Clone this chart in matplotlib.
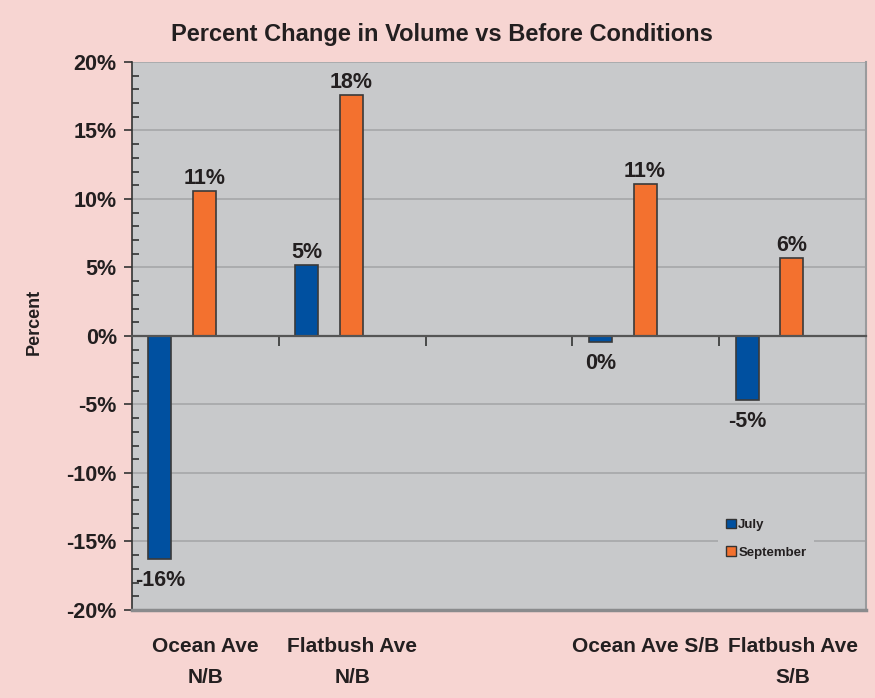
import matplotlib
matplotlib.use("Agg")
import matplotlib.pyplot as plt
from matplotlib.patches import Patch
from matplotlib.ticker import MultipleLocator, FuncFormatter

plt.rcParams['font.family'] = ['Liberation Sans', 'DejaVu Sans']
plt.rcParams['font.weight'] = 'bold'

categories = ["Ocean Ave\nN/B", "Flatbush Ave\nN/B", "", "Ocean Ave S/B", "Flatbush Ave\nS/B"]
july = [-16.3, 5.2, None, -0.45, -4.7]
september = [10.6, 17.6, None, 11.1, 5.7]
series_names = ["July", "September"]

BG = "#f7d5d2"
PLOT_BG = "#c8c9cb"
BLUE = "#0050a0"
ORANGE = "#f3712f"
TEXT = "#231f20"

fig = plt.figure(figsize=(8.75, 6.98), dpi=100, facecolor=BG)
ax = fig.add_axes([0.1509, 0.1261, 0.8388, 0.7851])
ax.set_facecolor(PLOT_BG)

bar_w = 0.157
offsets = [-0.31, -0.005]
for vals, off, color in [(july, offsets[0], BLUE), (september, offsets[1], ORANGE)]:
    for i, v in enumerate(vals):
        if v is None:
            continue
        ax.bar(i + off, v, width=bar_w, color=color, edgecolor="#3a3a3a",
               linewidth=1.2, zorder=3)
        label = f"{round(v):d}%"
        if v >= 0:
            ax.annotate(label, (i + off, v), xytext=(0, 1.5), textcoords="offset points",
                        ha="center", va="bottom", fontsize=15.5, fontweight="bold", color=TEXT)
        else:
            ax.annotate(label, (i + off, v), xytext=(0, -8), textcoords="offset points",
                        ha="center", va="top", fontsize=15.5, fontweight="bold", color=TEXT)

ax.set_xlim(-0.5, 4.5)
ax.set_ylim(-20, 20)

# y axis
ax.yaxis.set_major_locator(MultipleLocator(5))
ax.yaxis.set_minor_locator(MultipleLocator(1))
ax.yaxis.set_major_formatter(FuncFormatter(lambda v, p: f"{v:.0f}%"))
ax.tick_params(axis="y", which="major", direction="out", length=6, width=1.2,
               color="#333333", labelsize=15.5, labelcolor=TEXT, pad=5)
ax.tick_params(axis="y", which="minor", direction="in", length=5, width=1.2, color="#333333")
for lbl in ax.get_yticklabels():
    lbl.set_fontweight("bold")
ax.grid(axis="y", which="major", color="#a3a4a6", linewidth=1.1, zorder=0)
ax.set_axisbelow(True)

# x axis along zero line with category dividers
ax.spines["bottom"].set_position(("data", 0))
ax.spines["bottom"].set_color("#555555")
ax.spines["bottom"].set_linewidth(1.6)
ax.spines["bottom"].set_zorder(4)
ax.set_xticks([0.5, 1.5, 2.5, 3.5])
ax.set_xticklabels([])
ax.tick_params(axis="x", direction="out", length=7, width=1.2, color="#333333")

ax.spines["left"].set_color("#333333")
ax.spines["left"].set_linewidth(1.2)
ax.spines["right"].set_color("#9a9b9d")
ax.spines["right"].set_linewidth(1.5)
ax.spines["top"].set_visible(False)
ax.axhline(-20, color="#8a8b8d", linewidth=2.5, clip_on=False, zorder=4)

for i, name in enumerate(categories):
    if name:
        ax.text(i, -0.05, name, transform=ax.get_xaxis_transform(), ha="center", va="top",
                fontsize=15, fontweight="bold", color=TEXT, linespacing=1.75)

ax.set_ylabel("Percent", fontsize=13, fontweight="bold", color=TEXT)
ax.yaxis.set_label_coords(-0.122, 0.526)

fig.text(0.505, 0.951, "Percent Change in Volume vs Before Conditions", ha="center",
         va="center", fontsize=17, fontweight="bold", color=TEXT)

handles = [Patch(facecolor=BLUE, edgecolor="#333333"),
           Patch(facecolor=ORANGE, edgecolor="#333333")]
leg = ax.legend(handles, series_names, loc="center left", bbox_to_anchor=(0.79, 0.13),
                frameon=True, facecolor=PLOT_BG, edgecolor="none", framealpha=1,
                fontsize=9.5, handlelength=0.7, handleheight=0.7, handletextpad=0.2,
                labelspacing=1.15, borderpad=0.6)
for t in leg.get_texts():
    t.set_fontweight("bold")
    t.set_color(TEXT)

fig.savefig("out.png", dpi=100, facecolor=BG)
